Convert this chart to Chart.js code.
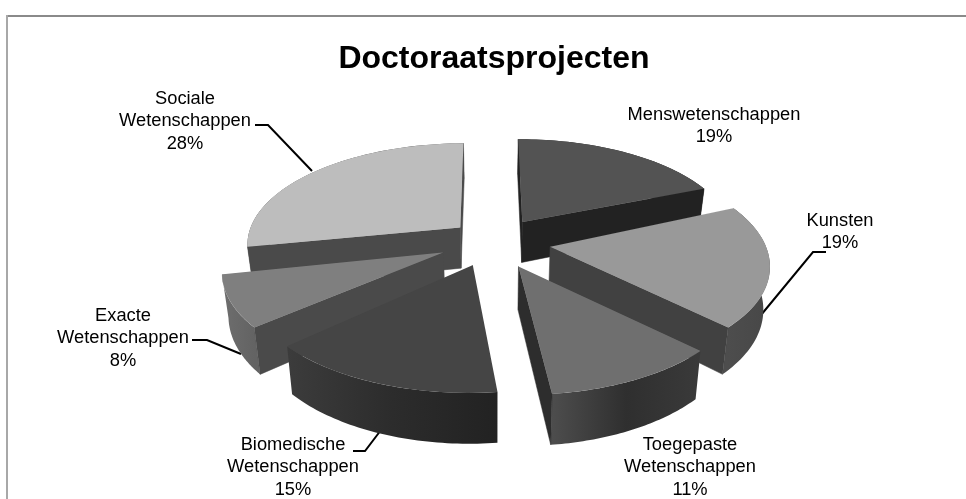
<!DOCTYPE html>
<html>
<head>
<meta charset="utf-8">
<script src="https://cdn.jsdelivr.net/npm/chart.js@4"></script>
<style>
  html, body { margin: 0; padding: 0; background: #fff; }
  canvas { display: block; }
</style>
</head>
<body>
<canvas id="Doctoraat" width="966" height="499"></canvas>
<script>
// ------
// data
// ------
const chartTitle = 'Doctoraatsprojecten';
const categories = ['Menswetenschappen', 'Kunsten', 'Toegepaste Wetenschappen', 'Biomedische Wetenschappen', 'Exacte Wetenschappen', 'Sociale Wetenschappen'];
const percentages = [19, 19, 11, 15, 8, 28];

// ------
// styles, same order as categories
// ------
const topColors = ['#535353', '#999999', '#6f6f6f', '#454545', '#7f7f7f', '#bdbdbd'];
const cutColors = ['#222222', '#414141', '#2d2d2d', '#222222', '#4a4a4a', '#4a4a4a'];
const rimColors = [
  ['#222222', '#222222'],
  ['#4d4d4d', '#474747'],
  ['#4d4d4d', '#2f2f2f', '#3a3a3a'],
  ['#3c3c3c', '#2c2c2c', '#222222'],
  ['#6e6e6e', '#636363'],
  ['#4a4a4a', '#4a4a4a'],
];
const explode = [50, 56, 57, 54, 56, 46];
// small turn of each slice in the pie plane, degrees
const turnDeg = [-0.2, -2, -2.8, -2.7, -1, -0.4];
const drawOrder = [5, 0, 1, 4, 2, 3];

// label blocks: centre x, first line y, leader line
const labelSpots = [
  { x: 714, y: 115, line: null },
  { x: 840, y: 221, line: [[761, 315], [813, 252], [826, 252]] },
  { x: 690, y: 445, line: null },
  { x: 293, y: 445, line: [[381, 430], [365, 451], [353, 451]] },
  { x: 123, y: 316, line: [[241, 354], [207, 340], [192, 340]] },
  { x: 185, y: 99, line: [[312, 171], [268, 125], [255, 125]] },
];

// ------
// view: horizon, camera distance, radius and height of the pie in px
// ------
const view = { cx: 495, horizon: -430, hf: 671, dist: 1428, radius: 214, depth: 41.5, taper: 0.024 };

function scaleAt(z) {
  return 1 / (1 - z / view.dist);
}
function project(x, z, t) {
  const p = scaleAt(z);
  return [view.cx + p * x * (1 - t * view.taper), view.horizon + (view.hf + t * view.depth) * p];
}

function drawTop(ctx, arc, ox, oz, turn, yFrom, yTo) {
  const k = view.radius / arc.outerRadius;
  const cos = Math.cos(turn);
  const sin = Math.sin(turn);
  for (let y = yFrom; y < yTo; y++) {
    const yc = y + 0.5;
    const p = (yc - view.horizon) / view.hf;
    if (p <= 0) continue;
    const zc = view.dist * (1 - 1 / p);
    const s = (view.hf * p * p) / view.dist;
    const ma = p * k * cos;
    const mb = s * k * sin;
    const mc = -p * k * sin;
    const md = s * k * cos;
    ctx.save();
    ctx.beginPath();
    ctx.rect(0, y, ctx.canvas.width, 1);
    ctx.clip();
    ctx.setTransform(ma, mb, mc, md,
      view.cx + p * ox - ma * arc.x - mc * arc.y,
      yc + s * (oz - zc) - mb * arc.x - md * arc.y);
    arc.draw(ctx);
    ctx.restore();
  }
}

function drawCut(ctx, ox, oz, a, color) {
  const ex = ox + view.radius * Math.cos(a);
  const ez = oz + view.radius * Math.sin(a);
  const pts = [project(ox, oz, 0), project(ex, ez, 0), project(ex, ez, 1), project(ox, oz, 1)];
  ctx.fillStyle = color;
  ctx.strokeStyle = color;
  ctx.lineWidth = 0.5;
  ctx.beginPath();
  pts.forEach((q, i) => (i ? ctx.lineTo(q[0], q[1]) : ctx.moveTo(q[0], q[1])));
  ctx.closePath();
  ctx.fill();
  ctx.stroke();
}

function drawRim(ctx, ox, oz, a0, a1, colors) {
  const n = 48;
  const upper = [];
  const lower = [];
  for (let i = 0; i <= n; i++) {
    const a = a0 + ((a1 - a0) * i) / n;
    const x = ox + view.radius * Math.cos(a);
    const z = oz + view.radius * Math.sin(a);
    upper.push(project(x, z, 0));
    lower.push(project(x, z, 1));
  }
  const xs = upper.map((q) => q[0]);
  const g = ctx.createLinearGradient(Math.min(...xs), 0, Math.max(...xs), 0);
  colors.forEach((c, i) => g.addColorStop(i / (colors.length - 1), c));
  ctx.fillStyle = g;
  ctx.beginPath();
  upper.concat(lower.reverse()).forEach((q, i) => (i ? ctx.lineTo(q[0], q[1]) : ctx.moveTo(q[0], q[1])));
  ctx.closePath();
  ctx.fill();
}

const pie3d = {
  id: 'pie3d',
  beforeDraw(chart) {
    const ctx = chart.ctx;
    ctx.save();
    ctx.fillStyle = '#8a8a8a';
    ctx.fillRect(6, 15, 960, 2);
    ctx.fillStyle = '#a8a8a8';
    ctx.fillRect(6, 15, 2, 484);
    ctx.restore();
  },
  beforeDatasetsDraw(chart) {
    const ctx = chart.ctx;
    const arcs = chart.getDatasetMeta(0).data;
    // leader lines go under the slices, so they end at the rim
    ctx.save();
    ctx.strokeStyle = '#000';
    ctx.lineWidth = 2;
    labelSpots.forEach((s) => {
      if (!s.line) return;
      ctx.beginPath();
      s.line.forEach((q, i) => (i ? ctx.lineTo(q[0], q[1]) : ctx.moveTo(q[0], q[1])));
      ctx.stroke();
    });
    ctx.restore();
    drawOrder.forEach((i) => {
      const arc = arcs[i];
      const mid = (arc.startAngle + arc.endAngle) / 2;
      const turn = (turnDeg[i] * Math.PI) / 180;
      const a0 = arc.startAngle + turn;
      const a1 = arc.endAngle + turn;
      const ox = explode[i] * Math.cos(mid);
      const oz = explode[i] * Math.sin(mid);
      // only the walls that face the camera
      const camZ = view.dist - oz;
      const startSeen = Math.sin(a0) * -ox - Math.cos(a0) * camZ > 0;
      const endSeen = Math.sin(a1) * ox + Math.cos(a1) * camZ > 0;
      drawRim(ctx, ox, oz, a0, a1, rimColors[i]);
      if (startSeen) drawCut(ctx, ox, oz, a0, cutColors[i]);
      if (endSeen) drawCut(ctx, ox, oz, a1, cutColors[i]);
      drawTop(ctx, arc, ox, oz, turn, 120, 420);
    });
    return false;
  },
  afterDraw(chart) {
    const ctx = chart.ctx;
    ctx.save();
    ctx.fillStyle = '#000';
    ctx.font = '18.3px "Liberation Sans"';
    ctx.textAlign = 'center';
    ctx.textBaseline = 'middle';
    categories.forEach((name, i) => {
      const lines = name.split(' ').concat(percentages[i] + '%');
      lines.forEach((t, j) => ctx.fillText(t, labelSpots[i].x, labelSpots[i].y + j * 22.4));
    });
    ctx.restore();
  },
};

new Chart(document.getElementById('Doctoraat'), {
  type: 'pie',
  data: {
    labels: categories,
    datasets: [
      {
        data: percentages,
        backgroundColor: topColors,
        borderWidth: 0,
      },
    ],
  },
  options: {
    responsive: false,
    animation: false,
    layout: {
      padding: { top: 40, left: 22, right: 0, bottom: 10 },
    },
    plugins: {
      legend: { display: false },
      tooltip: { enabled: false },
      title: {
        display: true,
        text: chartTitle,
        color: '#000',
        font: { family: '"Liberation Sans"', size: 32, weight: 'bold' },
        padding: 0,
      },
    },
  },
  plugins: [pie3d],
});
</script>
</body>
</html>
